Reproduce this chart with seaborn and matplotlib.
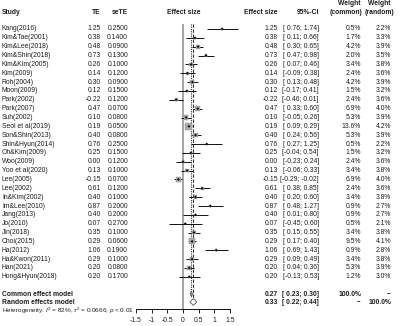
import numpy as np
import matplotlib
matplotlib.use("Agg")
import matplotlib.pyplot as plt
import seaborn as sns
import pandas as pd

# study level data
studies = ["Kang(2016)", "Kim&Tae(2001)", "Kim&Lee(2018)", "Kim&Shin(2018)", "Kim&Kim(2005)",
           "Kim(2009)", "Roh(2004)", "Moon(2009)", "Park(2002)", "Park(2007)", "Suh(2002)",
           "Seol et al(2019)", "Son&Shin(2013)", "Shin&Hyun(2014)", "Oh&Kim(2009)", "Woo(2009)",
           "Yoo et al(2020)", "Lee(2005)", "Lee(2002)", "In&Kim(2002)", "Im&Lee(2010)",
           "Jang(2013)", "Jo(2010)", "Jin(2018)", "Choi(2015)", "Ha(2012)", "Ha&Kwon(2011)",
           "Han(2021)", "Hong&Hyun(2018)"]
te = [1.25, 0.38, 0.48, 0.73, 0.26, 0.14, 0.30, 0.12, -0.22, 0.47, 0.10, 0.19, 0.40, 0.76,
      0.25, 0.00, 0.13, -0.15, 0.61, 0.40, 0.87, 0.40, 0.07, 0.35, 0.29, 1.06, 0.29, 0.20, 0.20]
se_te = [0.25, 0.14, 0.09, 0.13, 0.10, 0.12, 0.09, 0.15, 0.12, 0.07, 0.08, 0.05, 0.08, 0.25,
         0.15, 0.12, 0.10, 0.07, 0.12, 0.10, 0.20, 0.20, 0.27, 0.10, 0.06, 0.19, 0.10, 0.08, 0.17]
ci_low = [0.76, 0.11, 0.30, 0.47, 0.07, -0.09, 0.13, -0.17, -0.46, 0.33, -0.05, 0.09, 0.24, 0.27,
          -0.04, -0.23, -0.06, -0.29, 0.38, 0.20, 0.48, 0.01, -0.45, 0.15, 0.17, 0.69, 0.09, 0.04, -0.13]
ci_high = [1.74, 0.66, 0.65, 0.98, 0.46, 0.38, 0.48, 0.41, 0.01, 0.60, 0.26, 0.29, 0.56, 1.25,
           0.54, 0.24, 0.33, -0.02, 0.85, 0.60, 1.27, 0.80, 0.60, 0.55, 0.40, 1.43, 0.49, 0.36, 0.53]
w_common = [0.5, 1.7, 4.2, 2.0, 3.4, 2.4, 4.2, 1.5, 2.4, 6.9, 5.3, 13.6, 5.3, 0.5, 1.5, 2.4,
            3.4, 6.9, 2.4, 3.4, 0.9, 0.9, 0.5, 3.4, 9.5, 0.9, 3.4, 5.3, 1.2]
w_random = [2.2, 3.3, 3.9, 3.5, 3.8, 3.6, 3.9, 3.2, 3.6, 4.0, 3.9, 4.2, 3.9, 2.2, 3.2, 3.6,
            3.8, 4.0, 3.6, 3.8, 2.7, 2.7, 2.1, 3.8, 4.1, 2.8, 3.8, 3.9, 3.0]

# pooled estimates
common_est = [0.27, 0.23, 0.30]
random_est = [0.33, 0.22, 0.44]
x_ticks = [-1.5, -1, -0.5, 0, 0.5, 1, 1.5]
tick_labels = ["-1.5", "-1", "-0.5", "0", "0.5", "1", "1.5"]
hetero_text = r"Heterogeneity: $I^2$ = 82%, $\tau^2$ = 0.0666, $p$ < 0.01"

df = pd.DataFrame({"study": studies, "te": te, "se": se_te, "lo": ci_low, "hi": ci_high,
                   "wc": w_common, "wr": w_random})
df["row"] = np.arange(len(df))

sns.set_theme(style="white")
plt.rcParams["font.family"] = ["Liberation Sans", "DejaVu Sans"]
plt.rcParams["mathtext.fontset"] = "custom"
plt.rcParams["mathtext.rm"] = "Liberation Sans"
plt.rcParams["mathtext.it"] = "Liberation Sans:italic"

fs = 4.9
tc = "#1e1e1e"
row0, step = 29.0, 8.85          # pixel of first row, pixels per row
ylim = ((326 - row0) / step, -row0 / step)
r_common, r_random, r_het, r_axis = 29.95, 30.85, 31.8, 31.65
r_head = -1.9
r_head1 = -2.85

fig = plt.figure(figsize=(4.0, 3.26), dpi=100)
fig.patch.set_facecolor("white")

# text layer in pixel x, row y
tx = fig.add_axes([0, 0, 1, 1])
tx.set_xlim(0, 400)
tx.set_ylim(*ylim)
tx.axis("off")

def put(x, y, s, ha="right", bold=False, size=fs):
    tx.text(x, y, s, ha=ha, va="center", fontsize=size, color=tc,
            fontweight="bold" if bold else "normal")

# headers
put(2, r_head, "Study", ha="left", bold=True)
put(101, r_head, "TE", bold=True)
put(128, r_head, "seTE", bold=True)
put(184, r_head, "Effect size", ha="center", bold=True)
put(278, r_head, "Effect size", bold=True)
put(319, r_head, "95%-CI", bold=True)
put(360, r_head1, "Weight", bold=True)
put(362, r_head, "(common)", bold=True)
put(391, r_head1, "Weight", bold=True)
put(394, r_head, "(random)", bold=True)

for _, r in df.iterrows():
    y = r["row"]
    put(2, y, r["study"], ha="left")
    put(101, y, f"{r['te']:.2f}")
    put(128, y, f"{r['se']:.4f}")
    put(278, y, f"{r['te']:.2f}")
    put(319, y, f"[{r['lo']:5.2f}; {r['hi']:.2f}]")
    put(361, y, f"{r['wc']:.1f}%")
    put(391, y, f"{r['wr']:.1f}%")

for y, name, est, wc, wr in [(r_common, "Common effect model", common_est, "100.0%", "--"),
                             (r_random, "Random effects model", random_est, "--", "100.0%")]:
    put(2, y, name, ha="left", bold=True)
    put(278, y, f"{est[0]:.2f}", bold=True)
    put(319, y, f"[{est[1]:5.2f}; {est[2]:.2f}]", bold=True)
    put(361, y, wc, bold=True)
    put(391, y, wr, bold=True)
tx.text(2, r_het, hetero_text, ha="left", va="center", fontsize=4.6, color=tc)

# forest panel: 0 at x=183 px, 31.33 px per unit
px0, scale = 183.0, 31.33
left_px, right_px = 120, 252
ax = fig.add_axes([left_px / 400, 0, (right_px - left_px) / 400, 1])
ax.set_xlim((left_px - px0) / scale, (right_px - px0) / scale)
ax.set_ylim(*ylim)
ax.patch.set_alpha(0)

ax.vlines(0, -0.55, r_axis, color="#8c8c8c", lw=1.1)
ax.vlines(common_est[0], -0.55, r_common, color="#333333", lw=0.8, linestyles=(0, (1, 1)))
ax.vlines(random_est[0], -0.55, r_random, color="#333333", lw=0.8, linestyles=(0, (3, 1.5)))

ax.hlines(df["row"], df["lo"], df["hi"], color="#111111", lw=0.7, clip_on=False)
k = 1.9
sns.scatterplot(data=df, x="te", y="row", size="wc", marker="s",
                sizes=(min(w_common) * k, max(w_common) * k), size_norm=(min(w_common), max(w_common)),
                color="#a8a8a8", edgecolor="#909090", linewidth=0.3, legend=False, ax=ax, zorder=3)
sns.scatterplot(data=df, x="te", y="row", marker="D", s=2.2, color="#111111",
                edgecolor="none", legend=False, ax=ax, zorder=4)

for y, est, fc, h in [(r_common, common_est, "#9a9a9a", 0.33), (r_random, random_est, "white", 0.38)]:
    ax.fill([est[1], est[0], est[2], est[0]], [y, y - h, y, y + h],
            facecolor=fc, edgecolor="#555555", lw=0.6, zorder=5)

for s in ["top", "right", "left"]:
    ax.spines[s].set_visible(False)
ax.spines["bottom"].set_position(("data", r_axis))
ax.spines["bottom"].set_bounds(x_ticks[0], x_ticks[-1])
ax.spines["bottom"].set_color("#111111")
ax.spines["bottom"].set_linewidth(0.7)
ax.set_xticks(x_ticks)
ax.set_xticklabels(tick_labels)
ax.tick_params(axis="x", bottom=True, length=3, width=0.7, pad=2.8, labelsize=fs, colors=tc)
ax.set_yticks([])
ax.set_xlabel("")
ax.set_ylabel("")

fig.savefig("out.png", dpi=100, facecolor="white")
